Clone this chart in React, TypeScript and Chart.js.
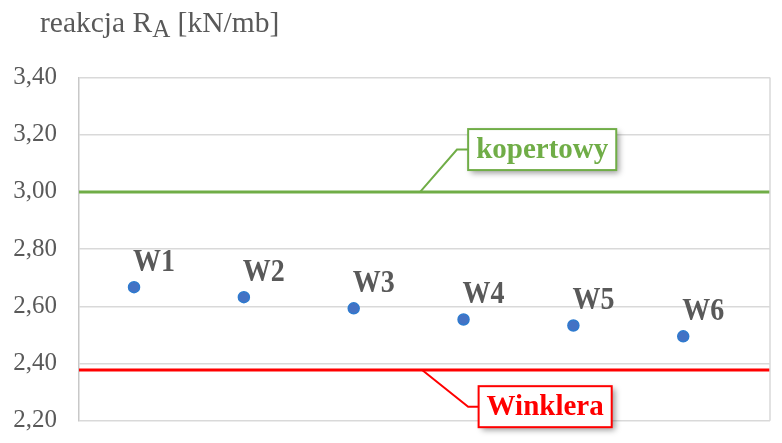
import React, { useEffect, useRef } from 'react';
import { Chart, registerables } from 'chart.js';

Chart.register(...registerables);

const categories = ['W1', 'W2', 'W3', 'W4', 'W5', 'W6'];
const reactionValues = [2.667, 2.632, 2.593, 2.554, 2.533, 2.495];
const kopertowyValue = 3.0;
const winkleraValue = 2.377;
const kopertowyLabel = 'kopertowy';
const winkleraLabel = 'Winklera';
const yMin = 2.2;
const yMax = 3.4;
const yStep = 0.2;

const SERIF = "'Liberation Serif', 'Times New Roman', serif";
const X_MIN = 0.499;
const X_MAX = 6.79;

const overlayPlugin = {
  id: 'overlay',
  afterDraw(chart: any) {
    const ctx = chart.ctx as CanvasRenderingContext2D;
    const area = chart.chartArea;
    const xs = chart.scales.x;
    const ys = chart.scales.y;
    ctx.save();

    // right border of plot area
    ctx.strokeStyle = '#d9d9d9';
    ctx.lineWidth = 1.5;
    ctx.beginPath();
    ctx.moveTo(area.right, area.top);
    ctx.lineTo(area.right, area.bottom);
    ctx.stroke();

    // title with subscript
    ctx.fillStyle = '#595959';
    ctx.textBaseline = 'alphabetic';
    ctx.textAlign = 'left';
    let tx = 40;
    const ty = 32;
    ctx.font = `29.5px ${SERIF}`;
    const part1 = 'reakcja R';
    ctx.fillText(part1, tx, ty);
    tx += ctx.measureText(part1).width;
    ctx.font = `25px ${SERIF}`;
    ctx.fillText('A', tx, ty + 5);
    tx += ctx.measureText('A').width;
    ctx.font = `29.5px ${SERIF}`;
    ctx.fillText(' [kN/mb]', tx, ty);

    // point labels (slightly tall bold serif)
    ctx.font = `bold 28px ${SERIF}`;
    ctx.fillStyle = '#595959';
    categories.forEach((c, i) => {
      const px = xs.getPixelForValue(i + 1);
      const py = ys.getPixelForValue(reactionValues[i]);
      ctx.save();
      ctx.translate(px - 1, py - 16);
      ctx.scale(1, 1.1);
      ctx.fillText(c, 0, 0);
      ctx.restore();
    });

    // callouts
    const drawCallout = (
      text: string,
      color: string,
      cx: number,
      cy: number,
      leader: Array<[number, number]>
    ) => {
      ctx.font = `bold 29px ${SERIF}`;
      const w = ctx.measureText(text).width + 16;
      const h = 41;
      const bx = xs.getPixelForValue(cx) - w / 2;
      const by = ys.getPixelForValue(cy) - h / 2;
      // leader line
      ctx.strokeStyle = color;
      ctx.lineWidth = 2;
      ctx.beginPath();
      leader.forEach(([lx, ly], k) => {
        const px = xs.getPixelForValue(lx);
        const py = ys.getPixelForValue(ly);
        if (k === 0) ctx.moveTo(px, py);
        else ctx.lineTo(px, py);
      });
      ctx.lineTo(bx, ys.getPixelForValue(leader[leader.length - 1][1]));
      ctx.stroke();
      // box with shadow
      ctx.save();
      ctx.shadowColor = 'rgba(0,0,0,0.4)';
      ctx.shadowBlur = 6;
      ctx.shadowOffsetX = 3;
      ctx.shadowOffsetY = 3;
      ctx.fillStyle = '#ffffff';
      ctx.fillRect(bx, by, w, h);
      ctx.restore();
      ctx.strokeStyle = color;
      ctx.lineWidth = 2;
      ctx.strokeRect(bx, by, w, h);
      ctx.fillStyle = color;
      ctx.textAlign = 'center';
      ctx.textBaseline = 'middle';
      ctx.fillText(text, bx + w / 2, by + h / 2 + 1);
      ctx.textAlign = 'left';
      ctx.textBaseline = 'alphabetic';
    };

    drawCallout(kopertowyLabel, '#70AD47', 4.716, 3.148, [
      [3.605, kopertowyValue],
      [3.94, 3.148],
    ]);
    drawCallout(winkleraLabel, '#FF0000', 4.743, 2.249, [
      [3.623, winkleraValue],
      [4.042, 2.249],
    ]);

    ctx.restore();
  },
};

export default function App() {
  const canvasRef = useRef<HTMLCanvasElement | null>(null);

  useEffect(() => {
    if (!canvasRef.current) return;
    const chart = new Chart(canvasRef.current, {
      type: 'scatter',
      data: {
        datasets: [
          {
            type: 'line',
            label: kopertowyLabel,
            data: [
              { x: X_MIN, y: kopertowyValue },
              { x: X_MAX, y: kopertowyValue },
            ],
            borderColor: '#70AD47',
            borderWidth: 3,
            pointRadius: 0,
            fill: false,
          } as any,
          {
            type: 'line',
            label: winkleraLabel,
            data: [
              { x: X_MIN, y: winkleraValue },
              { x: X_MAX, y: winkleraValue },
            ],
            borderColor: '#FF0000',
            borderWidth: 3,
            pointRadius: 0,
            fill: false,
          } as any,
          {
            type: 'scatter',
            label: 'reakcja',
            data: categories.map((c, i) => ({ x: i + 1, y: reactionValues[i] })),
            backgroundColor: '#4472C4',
            borderColor: '#2E7BCF',
            borderWidth: 1.5,
            pointRadius: 5.5,
          } as any,
        ],
      },
      options: {
        responsive: false,
        animation: false,
        layout: { padding: { top: 77.5, bottom: 22.3, left: 0, right: 12 } },
        plugins: {
          legend: { display: false },
          tooltip: { enabled: false },
        },
        scales: {
          x: {
            type: 'linear',
            display: false,
            min: X_MIN,
            max: X_MAX,
          },
          y: {
            type: 'linear',
            min: yMin,
            max: yMax,
            afterFit: (scale: any) => {
              scale.width = 79;
              scale.paddingTop = 0;
              scale.paddingBottom = 0;
            },
            ticks: {
              stepSize: yStep,
              padding: 22,
              color: '#595959',
              font: { family: SERIF, size: 25 },
              callback: (v: any) => Number(v).toFixed(2).replace('.', ','),
            },
            grid: {
              color: '#d9d9d9',
              lineWidth: 1.5,
              drawTicks: false,
            },
            border: {
              display: true,
              color: '#c8c8c8',
              width: 1.5,
            },
          },
        },
      },
      plugins: [overlayPlugin],
    });
    return () => chart.destroy();
  }, []);

  return (
    <div style={{ position: 'absolute', left: 0, top: 0, width: 782, height: 443, background: '#ffffff' }}>
      <canvas ref={canvasRef} width={782} height={443} style={{ display: 'block' }} />
    </div>
  );
}
